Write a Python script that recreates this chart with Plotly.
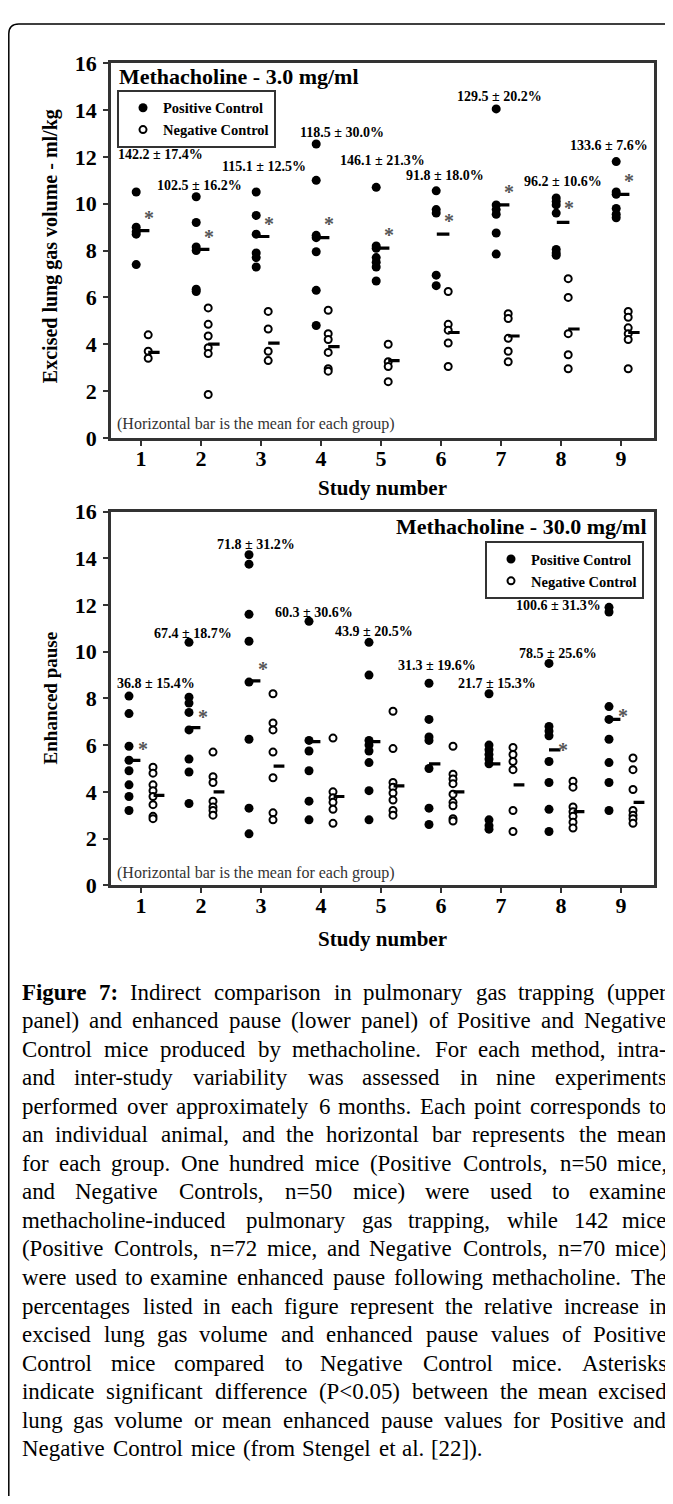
import plotly.graph_objects as go

# ---------------- data ----------------
studies = [1, 2, 3, 4, 5, 6, 7, 8, 9]
tick_vals_y = [0, 2, 4, 6, 8, 10, 12, 14, 16]

# Upper panel: excised lung gas volume (ml/kg), methacholine 3.0 mg/ml
up_pos = [
    [10.5, 9.0, 8.8, 8.7, 7.4],
    [10.3, 9.2, 8.15, 8.0, 6.35, 6.25],
    [10.5, 9.5, 8.7, 7.9, 7.7, 7.3],
    [12.55, 11.0, 8.65, 8.55, 7.95, 6.3, 4.8],
    [10.7, 8.2, 8.1, 7.7, 7.5, 7.3, 6.7],
    [10.55, 9.75, 9.6, 6.95, 6.5],
    [14.05, 9.95, 9.75, 9.55, 8.75, 7.85],
    [10.25, 10.1, 9.95, 9.6, 8.05, 7.9, 7.8],
    [11.8, 10.5, 10.4, 9.8, 9.55, 9.4],
]
up_neg = [
    [4.4, 3.7, 3.4],
    [5.55, 4.85, 4.35, 3.85, 3.6, 1.85],
    [5.4, 4.65, 3.7, 3.3],
    [5.45, 4.45, 4.2, 3.65, 2.95, 2.85],
    [4.0, 3.25, 3.05, 2.4],
    [6.25, 4.85, 4.6, 4.05, 3.05],
    [5.3, 5.1, 4.25, 3.7, 3.25],
    [6.8, 6.0, 4.45, 3.55, 2.95],
    [5.4, 5.15, 4.7, 4.45, 4.2, 2.95],
]
up_pos_mean = [8.85, 8.05, 8.6, 8.55, 8.1, 8.7, 9.95, 9.2, 10.4]
up_neg_mean = [3.65, 4.0, 4.05, 3.9, 3.3, 4.5, 4.35, 4.65, 4.5]
up_labels = ["142.2 ± 17.4%", "102.5 ± 16.2%", "115.1 ± 12.5%", "118.5 ± 30.0%",
             "146.1 ± 21.3%", "91.8 ± 18.0%", "129.5 ± 20.2%", "96.2 ± 10.6%",
             "133.6 ± 7.6%"]
up_sig = [1, 1, 1, 1, 1, 1, 1, 1, 1]

# Lower panel: enhanced pause, methacholine 30.0 mg/ml
lo_pos = [
    [8.1, 7.35, 5.95, 5.35, 4.9, 4.3, 3.8, 3.2],
    [10.4, 8.05, 7.8, 7.4, 6.65, 5.4, 4.85, 3.5],
    [14.15, 13.75, 11.6, 10.45, 8.7, 6.25, 3.3, 2.2],
    [11.3, 6.2, 5.75, 4.9, 3.6, 2.8],
    [10.4, 9.0, 6.2, 6.0, 5.75, 5.25, 4.05, 2.8],
    [8.65, 7.1, 6.35, 6.2, 5.0, 3.3, 2.6],
    [8.2, 6.0, 5.8, 5.6, 5.4, 5.2, 2.8, 2.55, 2.4],
    [9.5, 6.8, 6.6, 6.4, 5.3, 4.4, 3.25, 2.3],
    [11.9, 11.7, 7.65, 7.1, 6.25, 5.25, 4.4, 3.2],
]
lo_neg = [
    [5.05, 4.8, 4.3, 4.05, 3.8, 3.45, 2.95, 2.85],
    [5.7, 4.65, 4.4, 3.6, 3.35, 3.2, 3.0],
    [8.2, 6.95, 6.65, 5.7, 4.6, 3.1, 2.8],
    [6.3, 4.0, 3.75, 3.55, 3.25, 2.65],
    [7.45, 5.85, 4.4, 4.2, 3.95, 3.65, 3.2, 3.0],
    [5.95, 4.75, 4.55, 4.35, 3.9, 3.55, 3.4, 2.85, 2.75],
    [5.9, 5.6, 5.3, 4.95, 3.2, 2.3],
    [4.45, 4.2, 3.35, 3.15, 2.95, 2.7, 2.45],
    [5.45, 4.95, 4.1, 3.2, 3.0, 2.85, 2.65],
]
lo_pos_mean = [5.35, 6.75, 8.75, 6.15, 6.15, 5.2, 5.2, 5.8, 7.1]
lo_neg_mean = [3.85, 4.0, 5.1, 3.8, 4.25, 4.0, 4.3, 3.15, 3.55]
lo_labels = ["36.8 ± 15.4%", "67.4 ± 18.7%", "71.8 ± 31.2%", "60.3 ± 30.6%",
             "43.9 ± 20.5%", "31.3 ± 19.6%", "21.7 ± 15.3%", "78.5 ± 25.6%",
             "100.6 ± 31.3%"]
lo_sig = [1, 1, 1, 0, 0, 0, 0, 1, 1]

caption_lines = [
    "Figure 7: Indirect comparison in pulmonary gas trapping (upper",
    "panel) and enhanced pause (lower panel) of Positive and Negative",
    "Control mice produced by methacholine. For each method, intra-",
    "and inter-study variability was assessed in nine experiments",
    "performed over approximately 6 months. Each point corresponds to",
    "an individual animal, and the horizontal bar represents the mean",
    "for each group. One hundred mice (Positive Controls, n=50 mice,",
    "and Negative Controls, n=50 mice) were used to examine",
    "methacholine-induced pulmonary gas trapping, while 142 mice",
    "(Positive Controls, n=72 mice, and Negative Controls, n=70 mice)",
    "were used to examine enhanced pause following methacholine. The",
    "percentages listed in each figure represent the relative increase in",
    "excised lung gas volume and enhanced pause values of Positive",
    "Control mice compared to Negative Control mice. Asterisks",
    "indicate significant difference (P<0.05) between the mean excised",
    "lung gas volume or mean enhanced pause values for Positive and",
    "Negative Control mice (from Stengel et al. [22]).",
]

# ---------------- layout helpers ----------------
# The page body keeps its default 8 px margin, so the figure is sized to fit the
# 673x1504 window exactly and page coordinates are converted with an 8 px offset.
PAGE_OFF = 8
W, H = 673 - PAGE_OFF, 1504 - 2 * PAGE_OFF
SERIF = "Liberation Serif"


def px(x):
    return (x - PAGE_OFF) / W


def py(y):
    return 1 - (y - PAGE_OFF) / H


# Times-compatible advance widths (1/1000 em) used to justify the caption
_w = {" ": 250, "!": 333, "(": 333, ")": 333, ",": 250, "-": 333, ".": 250,
      "/": 278, ":": 278, ";": 278, "<": 564, "=": 564, "?": 444, "[": 333, "]": 333}
for ch in "0123456789":
    _w[ch] = 500
_w.update(dict(zip("ABCDEFGHIJKLMNOPQRSTUVWXYZ",
                   [722, 667, 667, 722, 611, 556, 722, 722, 333, 389, 722, 611, 889,
                    722, 722, 556, 722, 667, 556, 611, 722, 722, 944, 722, 722, 611])))
_w.update(dict(zip("abcdefghijklmnopqrstuvwxyz",
                   [444, 500, 444, 500, 444, 333, 500, 500, 278, 278, 500, 278, 778,
                    500, 500, 500, 500, 333, 389, 278, 500, 500, 722, 500, 500, 444])))
_wb = dict(_w)
_wb.update({"F": 611, "u": 556, "r": 444, ":": 333})


def text_em(s, bold=False):
    tab = _wb if bold else _w
    return sum(tab.get(c, 500) for c in s) / 1000.0


# label placements (layout, not data)
up_label_pos = [(1.32, 12.1), (1.98, 10.8), (3.05, 11.6), (4.35, 13.05), (5.03, 11.85),
                (6.07, 11.2), (6.98, 14.6), (8.03, 10.95), (8.8, 12.5)]
lo_label_pos = [(1.25, 8.65), (1.87, 10.8), (2.92, 14.58), (3.88, 11.68), (4.88, 10.88),
                (5.93, 9.43), (6.93, 8.65), (7.95, 9.91), (7.95, 11.96)]
up_ast_y = [9.66, 8.85, 9.4, 9.4, 8.9, 9.5, 10.75, 10.08, 11.2]
lo_ast_y = [6.1, 7.47, 9.49, 0, 0, 0, 0, 6.06, 7.5]

fig = go.Figure()


def add_panel(pos, neg, pos_mean, neg_mean, xa, ya, legend, dpos, dneg, bpos, bneg):
    xs, ys = [], []
    for s, vals in zip(studies, pos):
        xs += [s + dpos] * len(vals)
        ys += vals
    fig.add_trace(go.Scatter(x=xs, y=ys, mode="markers", name="Positive Control",
                             xaxis=xa, yaxis=ya, legend=legend,
                             marker=dict(color="black", size=9, symbol="circle",
                                         line=dict(width=0))))
    xs, ys = [], []
    for s, vals in zip(studies, neg):
        xs += [s + dneg] * len(vals)
        ys += vals
    fig.add_trace(go.Scatter(x=xs, y=ys, mode="markers", name="Negative Control",
                             xaxis=xa, yaxis=ya, legend=legend,
                             marker=dict(color="white", size=7, symbol="circle",
                                         line=dict(color="black", width=2))))
    for means, (b0, b1) in ((pos_mean, bpos), (neg_mean, bneg)):
        mx, my = [], []
        for s, m in zip(studies, means):
            mx += [s + b0, s + b1, None]
            my += [m, m, None]
        fig.add_trace(go.Scatter(x=mx, y=my, mode="lines", showlegend=False,
                                 xaxis=xa, yaxis=ya, hoverinfo="skip",
                                 line=dict(color="black", width=3.2)))


add_panel(up_pos, up_neg, up_pos_mean, up_neg_mean, "x", "y", "legend",
          -0.08, 0.12, (-0.07, 0.14), (0.12, 0.31))
add_panel(lo_pos, lo_neg, lo_pos_mean, lo_neg_mean, "x2", "y2", "legend2",
          -0.2, 0.2, (-0.2, -0.01), (0.21, 0.39))

ax_common = dict(showline=True, mirror=True, linecolor="#333", linewidth=2.5,
                 showgrid=False, zeroline=False, ticks="outside", ticklen=5,
                 tickwidth=2, tickcolor="#333",
                 tickfont=dict(family=SERIF, size=22, color="black", weight="bold"))

xdom = [px(111), px(654)]
leg_font = dict(family=SERIF, size=14.5, color="black", weight="bold")
fig.update_layout(
    width=W, height=H, margin=dict(l=0, r=0, t=0, b=0),
    paper_bgcolor="white", plot_bgcolor="white",
    xaxis=dict(domain=xdom, range=[0.5, 9.55], tickvals=studies, anchor="y",
               ticklabelstandoff=-6, **ax_common),
    yaxis=dict(domain=[py(433), py(52)], range=[0, 16], tickvals=tick_vals_y,
               anchor="x", ticklabelstandoff=2, **ax_common),
    xaxis2=dict(domain=xdom, range=[0.5, 9.55], tickvals=studies, anchor="y2",
                ticklabelstandoff=-6, **ax_common),
    yaxis2=dict(domain=[py(888), py(508)], range=[0, 16], tickvals=tick_vals_y,
                anchor="x2", ticklabelstandoff=2, **ax_common),
    legend=dict(x=px(117), y=py(79), xanchor="left", yanchor="top",
                bordercolor="#333", borderwidth=2, bgcolor="white", indentation=4,
                font=leg_font, tracegroupgap=0, itemwidth=30),
    legend2=dict(x=px(644), y=py(538), xanchor="right", yanchor="top",
                 bordercolor="#333", borderwidth=2, bgcolor="white", indentation=4,
                 font=leg_font, tracegroupgap=0, itemwidth=30),
)

ann = []
pct_font = dict(family=SERIF, size=14, color="black", weight="bold")
for lab, (lx, ly) in zip(up_labels, up_label_pos):
    ann.append(dict(x=lx, y=ly, xref="x", yref="y", text=lab, showarrow=False,
                    xanchor="center", yanchor="middle", font=pct_font))
for lab, (lx, ly) in zip(lo_labels, lo_label_pos):
    ann.append(dict(x=lx, y=ly, xref="x2", yref="y2", text=lab, showarrow=False,
                    xanchor="center", yanchor="middle", font=pct_font))
ast_font = dict(family=SERIF, size=20, color="#555", weight="bold")
for s, sig, ay in zip(studies, up_sig, up_ast_y):
    if sig:
        ann.append(dict(x=s + 0.14, y=ay - 0.25, xref="x", yref="y", text="*",
                        xanchor="center", yanchor="middle",
                        showarrow=False, font=ast_font))
for s, sig, ay in zip(studies, lo_sig, lo_ast_y):
    if sig:
        ann.append(dict(x=s + 0.03, y=ay - 0.25, xref="x2", yref="y2", text="*",
                        xanchor="center", yanchor="middle",
                        showarrow=False, font=ast_font))
# panel titles
title_font = dict(family=SERIF, size=22, color="black", weight="bold")
ann.append(dict(x=px(117), y=py(65), xref="paper", yref="paper", xanchor="left",
                yanchor="middle", text="Methacholine - 3.0 mg/ml", showarrow=False,
                font=title_font))
ann.append(dict(x=px(649), y=py(523), xref="paper", yref="paper", xanchor="right",
                yanchor="middle", text="Methacholine - 30.0 mg/ml", showarrow=False,
                font=title_font))
for yy in (419, 876):
    ann.append(dict(x=px(115), y=py(yy), xref="paper", yref="paper", xanchor="left",
                    yanchor="middle", text="(Horizontal bar is the mean for each group)",
                    showarrow=False, font=dict(family=SERIF, size=16, color="#333")))
for yy in (484, 943):
    ann.append(dict(x=px(382), y=py(yy), xref="paper", yref="paper",
                    xanchor="center", yanchor="middle",
                    text="Study number", showarrow=False,
                    font=dict(family=SERIF, size=21, color="black", weight="bold")))
ann.append(dict(x=px(50), y=py(238), xref="paper", yref="paper", textangle=-90,
                xanchor="center", yanchor="middle",
                text="Excised lung gas volume - ml/kg", showarrow=False,
                font=dict(family=SERIF, size=20, color="black", weight="bold")))
ann.append(dict(x=px(50), y=py(698), xref="paper", yref="paper", textangle=-90,
                xanchor="center", yanchor="middle",
                text="Enhanced pause", showarrow=False,
                font=dict(family=SERIF, size=19, color="black", weight="bold")))

# caption, justified word by word (last word of each justified line right-aligned)
CAP_L, CAP_R, CAP_Y0, CAP_DY = 21, 668, 997, 29
line_words = []
for i, line in enumerate(caption_lines):
    words = line.split(" ")
    bold = [i == 0 and k < 2 for k in range(len(words))]
    line_words.append((words, bold))
nat = [sum(text_em(w, b) for w, b in zip(ws, bs)) + 0.25 * (len(ws) - 1)
       for ws, bs in line_words]
cap_size = round(min((CAP_R - CAP_L) / n for n in nat) * 0.96, 1)
n_lines = len(line_words)
for i, (ws, bs) in enumerate(line_words):
    widths = [text_em(w, b) * cap_size * 1.03 for w, b in zip(ws, bs)]
    justify = i < n_lines - 1 and len(ws) > 1
    if justify:
        gap = ((CAP_R - CAP_L) - sum(widths)) / (len(ws) - 1)
    else:
        gap = 0.25 * cap_size * 1.03
    xcur = CAP_L
    for k, (w, b, wd) in enumerate(zip(ws, bs, widths)):
        t = w.replace("<", "&lt;")
        if b:
            t = "<b>" + t + "</b>"
        last = justify and k == len(ws) - 1
        ann.append(dict(x=px(CAP_R if last else xcur), y=py(CAP_Y0 + CAP_DY * i),
                        xref="paper", yref="paper",
                        xanchor="right" if last else "left", yanchor="middle", text=t,
                        showarrow=False, borderpad=0,
                        font=dict(family=SERIF, size=cap_size, color="black")))
        xcur += wd + gap
fig.update_layout(annotations=ann)

# outer rounded frame (open at right and bottom, cut by page edge)
r = 10
path = (f"M {px(8.8)},{py(1530)} L {px(8.8)},{py(12 + r)} "
        f"Q {px(8.8)},{py(12)} {px(8.8 + r)},{py(12)} L {px(700)},{py(12)}")
fig.add_shape(type="path", path=path, xref="paper", yref="paper",
              line=dict(color="black", width=1.5))

fig.write_html("out.html")
